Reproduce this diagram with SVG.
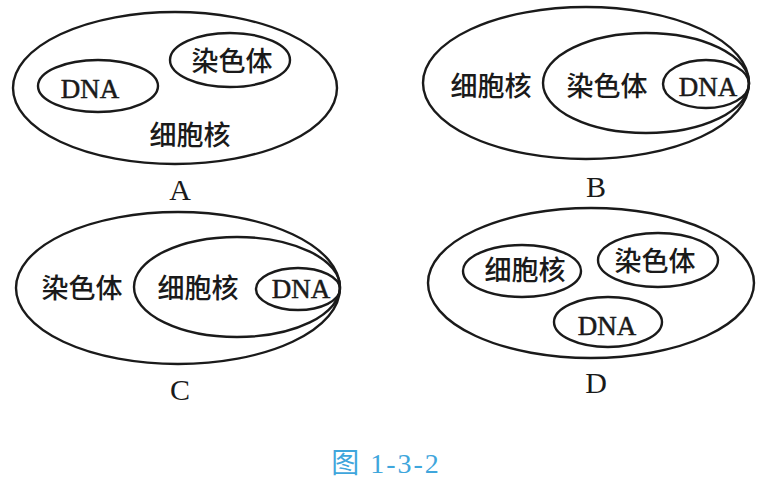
<svg xmlns="http://www.w3.org/2000/svg" width="773" height="484" viewBox="0 0 773 484">
<style>
ellipse{fill:none;stroke:#1a1a1a;stroke-width:2.4}
.zh{font-family:"Noto Sans CJK SC",sans-serif;font-size:27px;font-weight:500;fill:#1a1a1a;text-anchor:middle}
.en{font-family:"Liberation Serif",serif;font-size:27px;fill:#1a1a1a;stroke:#1a1a1a;stroke-width:0.5;text-anchor:middle}
.lab{font-family:"Liberation Serif",serif;font-size:30px;fill:#1a1a1a;text-anchor:middle}
.cap{font-family:"Liberation Serif","Noto Sans CJK SC",serif;font-size:28px;letter-spacing:2px;fill:#3fa6dc;text-anchor:middle}
</style>
<rect width="773" height="484" fill="#fff"/>
<g id="A">
<ellipse cx="175" cy="88" rx="162" ry="76"/>
<ellipse cx="98" cy="86" rx="60" ry="26"/>
<ellipse cx="230" cy="60" rx="60" ry="27"/>
<text class="en" x="90" y="98">DNA</text>
<text class="zh" x="232" y="71">染色体</text>
<text class="zh" x="190" y="145">细胞核</text>
<text class="lab" x="180" y="200">A</text>
</g>
<g id="B">
<ellipse cx="586" cy="83" rx="163" ry="76"/>
<ellipse cx="646" cy="83" rx="103" ry="50"/>
<ellipse cx="706" cy="84" rx="43" ry="24"/>
<text class="zh" x="491" y="96">细胞核</text>
<text class="zh" x="607" y="96">染色体</text>
<text class="en" x="708" y="96">DNA</text>
<text class="lab" x="596" y="197">B</text>
</g>
<g id="C">
<ellipse cx="178" cy="288" rx="162" ry="76"/>
<ellipse cx="237" cy="287" rx="103" ry="50"/>
<ellipse cx="298" cy="289" rx="42" ry="21"/>
<text class="zh" x="82" y="298">染色体</text>
<text class="zh" x="198" y="298">细胞核</text>
<text class="en" x="301" y="298">DNA</text>
<text class="lab" x="180" y="400">C</text>
</g>
<g id="D">
<ellipse cx="591" cy="283" rx="163" ry="75"/>
<ellipse cx="522" cy="271" rx="59" ry="26"/>
<ellipse cx="658" cy="260" rx="60" ry="27"/>
<ellipse cx="608" cy="322" rx="54" ry="25"/>
<text class="zh" x="525" y="280">细胞核</text>
<text class="zh" x="655" y="271">染色体</text>
<text class="en" x="607" y="335">DNA</text>
<text class="lab" x="596" y="393">D</text>
</g>
<g id="connectors"/>
<text class="cap" x="386" y="473">图 1-3-2</text>
</svg>
